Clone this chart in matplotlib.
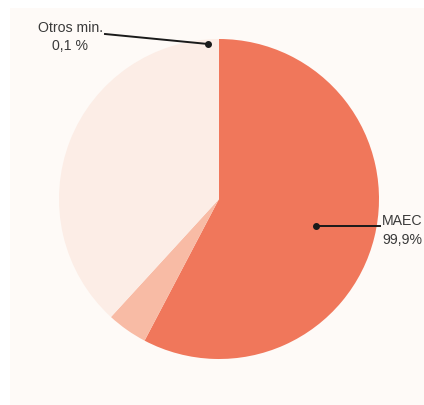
import matplotlib.pyplot as plt
from matplotlib.patches import Rectangle

# slices read clockwise from 12 o'clock
slices = ['MAEC', 'medio', 'Otros']
shares = [57.7, 4.1, 38.2]
colors = ['#F0775B', '#F8BBA5', '#FCEDE6']

W, H = 424, 405
fig = plt.figure(figsize=(W / 100, H / 100), dpi=100)
fig.patch.set_facecolor('white')
ax = fig.add_axes([0, 0, 1, 1])
ax.set_xlim(0, W)
ax.set_ylim(0, H)
ax.set_aspect('equal')
ax.axis('off')

# light panel behind the chart
ax.add_patch(Rectangle((10, 0), W - 10, H - 8, facecolor='#FEFAF7', edgecolor='none', zorder=0))

ax.pie(shares, colors=colors, startangle=90, counterclock=False,
       center=(219, H - 199), radius=160, frame=True,
       wedgeprops=dict(linewidth=0))
ax.set_xlim(0, W)
ax.set_ylim(0, H)
ax.axis('off')

txt = dict(color='#3a3a3a', fontsize=10.2, family='Liberation Sans')

# Otros min. callout
ax.plot([105, 208], [H - 34, H - 44], color='#1a1a1a', lw=1.4, zorder=5)
ax.plot(208, H - 44, 'o', color='#1a1a1a', ms=4, zorder=6)
ax.text(71, H - 28, 'Otros min.', ha='center', va='center', **txt)
ax.text(70, H - 46, '0,1 %', ha='center', va='center', **txt)

# MAEC callout (kept just inside the right edge)
ax.plot([316, 380], [H - 226, H - 226], color='#1a1a1a', lw=1.4, zorder=5)
ax.plot(316, H - 226, 'o', color='#1a1a1a', ms=4, zorder=6)
ax.text(382, H - 221, 'MAEC', ha='left', va='center', **txt)
ax.text(382, H - 240, '99,9%', ha='left', va='center', **txt)

plt.savefig('out.png', dpi=100)
